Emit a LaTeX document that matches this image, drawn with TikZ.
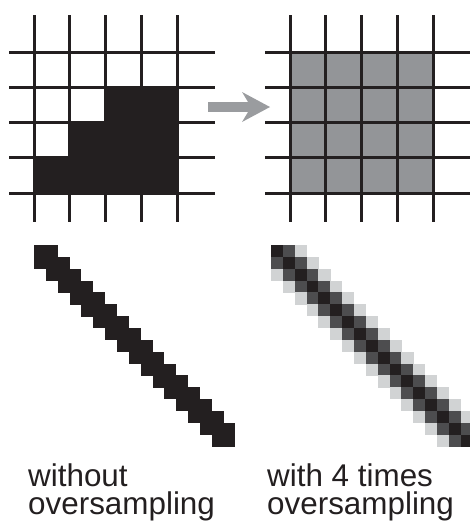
\documentclass[tikz,border=0pt]{standalone}
\usepackage{fontspec}
\setmainfont{Liberation Sans}
\definecolor{ink}{HTML}{231F20}
\definecolor{cellgray}{HTML}{939598}
\definecolor{arrowgray}{HTML}{9A9C9F}
\definecolor{pxmid}{HTML}{4D4D4F}
\definecolor{pxlight}{HTML}{D1D3D4}
\begin{document}
\begin{tikzpicture}[x=1pt,y=-1pt,
  gridline/.style={ink, line width=3pt},
  caption/.style={inner sep=0pt, align=left, text=ink, font=\fontsize{31.4}{28}\selectfont, anchor=base west}]
\useasboundingbox (0,0) rectangle (470,525);
\clip (0,0) rectangle (470,525);
\pgfmathsetmacro\p{11.85}
% cell fills
\fill[ink] (105.5,87.25) -- (177,87.25) -- (177,193) -- (34,193) -- (34,157.75)
  -- (69.75,157.75) -- (69.75,122.5) -- (105.5,122.5) -- cycle;
\fill[cellgray] (290,52) rectangle (433,193);
% grids
\foreach \ox in {0,256} {
  \foreach \i in {0,...,4} {
    \draw[gridline] ({34+\ox+35.75*\i},15) -- ({34+\ox+35.75*\i},222);
    \draw[gridline] ({9+\ox},{52+35.25*\i}) -- ({215+\ox},{52+35.25*\i});
  }
}
% arrow
\coordinate (arrS) at (208,107);
\coordinate (arrT) at (270,107);
\draw[arrowgray, line width=10pt] (arrS) -- ++(44,0);
\fill[arrowgray] (arrT) -- ++(-28,-15) -- ++(9,15) -- ++(-9,15) -- cycle;
% aliased line
\foreach \r in {0,...,16} {
  \pgfmathtruncatemacro\a{max(0,\r-1)}
  \pgfmathtruncatemacro\b{min(16,\r+1)}
  \fill[ink] ({34+\a*\p},{245+\r*\p}) rectangle ({34+(\b+1)*\p},{245+(\r+1)*\p+0.4});
}
% antialiased line
\foreach \r in {0,...,16} {
  \foreach \d/\c in {-2/pxlight,-1/pxmid,0/ink,1/pxmid,2/pxlight} {
    \pgfmathtruncatemacro\col{\r+\d}
    \ifnum\col<0 \else\ifnum\col>17 \else
      \fill[\c] ({271+\col*\p},{245+\r*\p}) rectangle ({271+(\col+1)*\p+0.3},{245+(\r+1)*\p+0.3});
    \fi\fi
  }
}
% captions
\node[caption] (capL) at (28,514) {without\\oversampling};
\node[caption] (capR) at (267,514) {with 4 times\\oversampling};
\end{tikzpicture}
\end{document}
